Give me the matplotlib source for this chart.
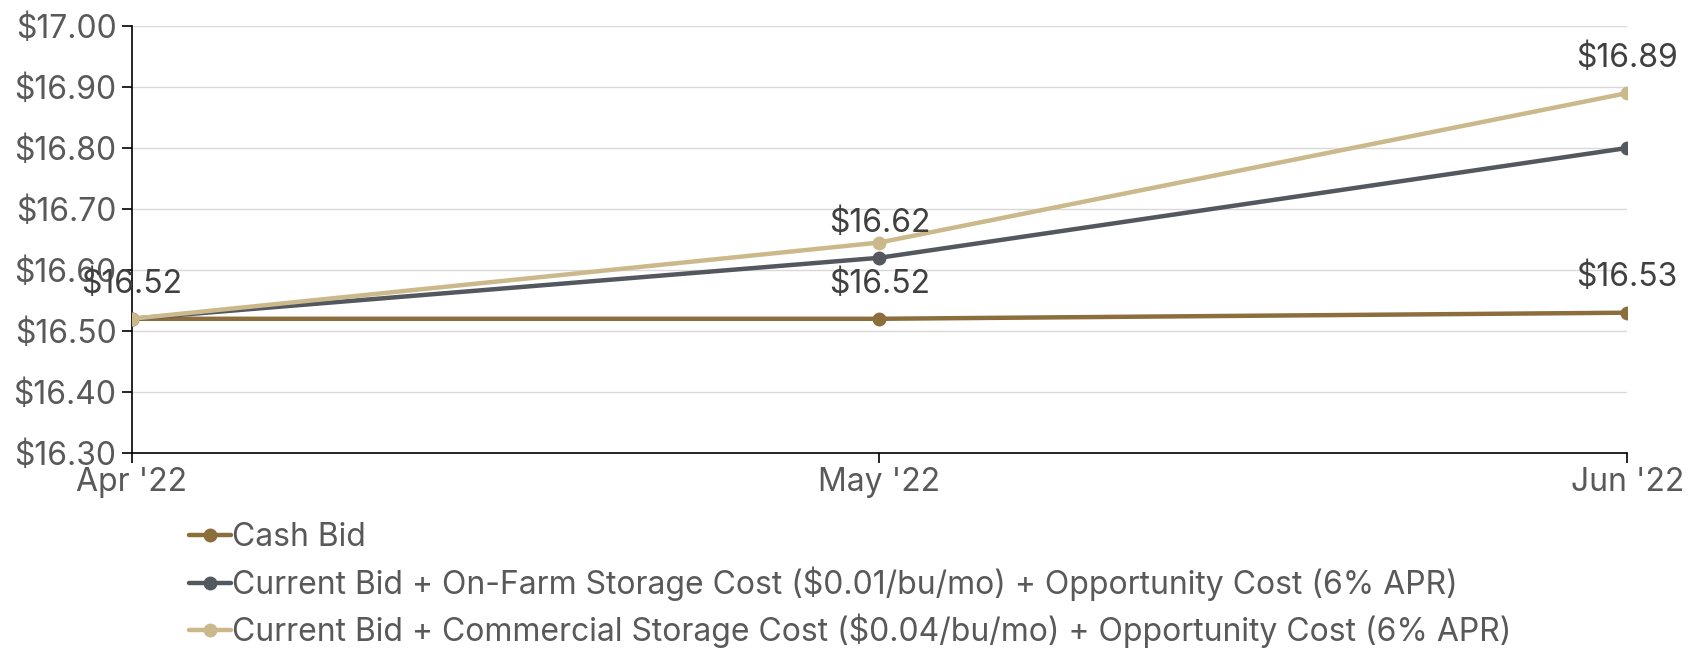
import matplotlib
matplotlib.use("Agg")
import matplotlib.pyplot as plt

plt.rcParams.update({
    "font.family": ["Inter", "DejaVu Sans"],
    "font.size": 23,
})

# -------------------- DATA --------------------
months = ["Apr '22", "May '22", "Jun '22"]
cash_bid = [16.52, 16.52, 16.53]
on_farm = [16.52, 16.62, 16.80]
commercial = [16.52, 16.645, 16.89]

series_names = [
    "Cash Bid",
    "Current Bid + On-Farm Storage Cost ($0.01/bu/mo) + Opportunity Cost (6% APR)",
    "Current Bid + Commercial Storage Cost ($0.04/bu/mo) + Opportunity Cost (6% APR)",
]
colors = ["#8C6D3C", "#53575E", "#CBB98C"]

# which points carry a value label: (series index, point index)
labelled = [(0, 0), (0, 1), (0, 2), (1, 1), (2, 2)]

y_ticks = [16.30, 16.40, 16.50, 16.60, 16.70, 16.80, 16.90, 17.00]

# -------------------- FIGURE --------------------
fig = plt.figure(figsize=(16.88, 6.49), dpi=100)
ax = fig.add_axes([0.078, 0.302, 0.886, 0.658])

x = range(len(months))
all_series = [cash_bid, on_farm, commercial]
lines = []
for vals, name, c in zip(all_series, series_names, colors):
    ln, = ax.plot(x, vals, color=c, lw=3.2, marker="o", ms=9, label=name,
                  solid_capstyle="round", zorder=3)
    lines.append(ln)

# commercial drawn on top as in original
lines[2].set_zorder(4)

for si, pi in labelled:
    v = all_series[si][pi]
    ax.annotate(f"${v:.2f}", (pi, v), xytext=(0, 25), textcoords="offset points",
                ha="center", va="center", fontsize=23, color="#404040", zorder=5)

ax.set_xlim(0, 2)
ax.set_ylim(16.30, 17.00)
ax.set_xticks(list(x))
ax.set_xticklabels(months)
ax.set_yticks(y_ticks)
ax.set_yticklabels([f"${t:.2f}" for t in y_ticks])

ax.grid(axis="y", color="#D9D9D9", lw=1)
ax.set_axisbelow(True)
for s in ["top", "right"]:
    ax.spines[s].set_visible(False)
for s in ["left", "bottom"]:
    ax.spines[s].set_color("black")
    ax.spines[s].set_linewidth(1.2)

ax.tick_params(axis="both", colors="black", length=7, width=1.2,
               labelcolor="#595959", labelsize=23)
ax.tick_params(axis="x", pad=3)
ax.tick_params(axis="y", pad=4)

fig.legend(handles=lines, loc="upper left", bbox_to_anchor=(0.112, 0.195),
           frameon=False, fontsize=23, handlelength=1.3, handletextpad=0.05,
           labelspacing=0.4, borderaxespad=0, borderpad=0,
           labelcolor="#595959")

fig.savefig("out.png", dpi=100)
